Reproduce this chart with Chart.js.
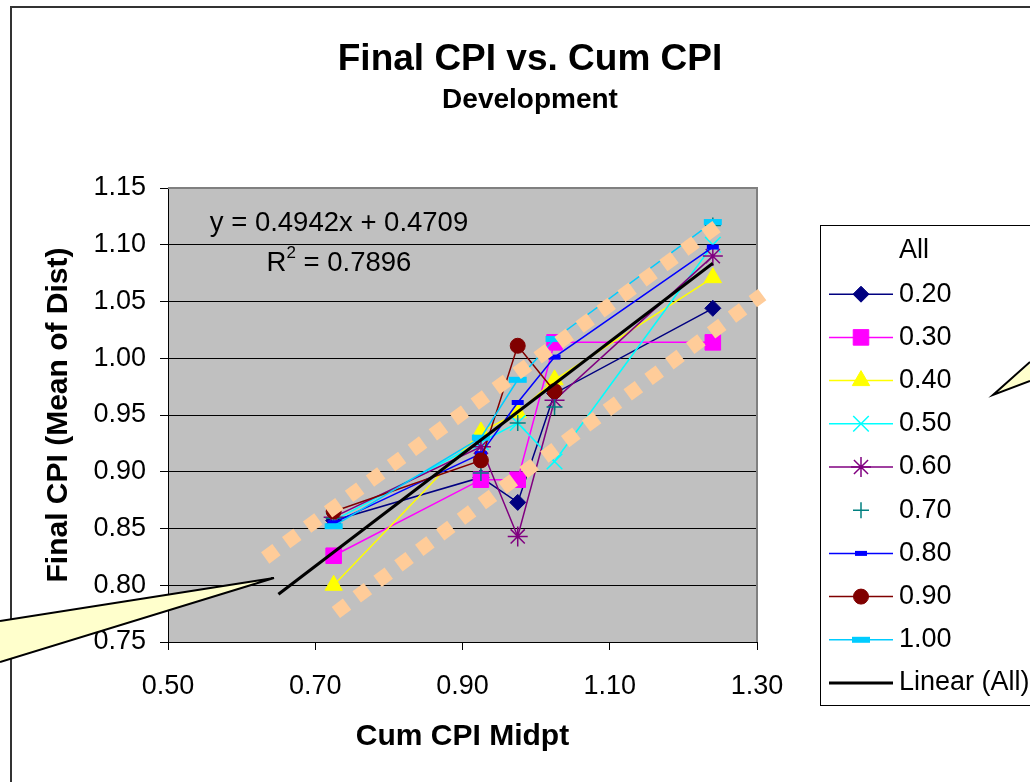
<!DOCTYPE html>
<html>
<head>
<meta charset="utf-8">
<script src="https://cdn.jsdelivr.net/npm/chart.js@4.4.0/dist/chart.umd.min.js"></script>
<style>
html,body{margin:0;padding:0;background:#fff}
#wrap{width:1030px;height:782px}
</style>
</head>
<body>
<div id="wrap"><canvas id="cpi" width="1030" height="782"></canvas></div>
<script>
// cum CPI bucket midpoints (x) and mean final CPI per completion group
const cumCpi=[0.725,0.925,0.975,1.025,1.24]
const groups=["0.20","0.30","0.40","0.50","0.60","0.70","0.80","0.90","1.00"]
const final020=[0.857,0.895,0.873,0.969,1.044]
const final030=[0.826,0.893,0.893,1.014,1.014]
const final040=[0.800,0.935,0.952,0.981,1.071]
const final050=[0.857,0.926,0.943,0.909,1.100]
const final060=[0.860,0.922,0.843,0.963,1.090]
const final070=[0.859,0.899,0.943,0.957,1.117]
const final080=[0.855,0.916,0.961,1.001,1.098]
const final090=[0.865,0.910,1.011,0.971,null]
const final100=[0.852,0.930,0.981,1.017,1.120]
const finals=[final020,final030,final040,final050,final060,final070,final080,final090,final100]

// linear fit on "All"
const slope=0.4942
const intercept=0.4709
const r2=0.7896
const fitX=[0.65,1.24]

// dotted band drawn around the points
const upperBandX=[0.632,1.247]
const upperBandY=[0.824,1.117]
const lowerBandX=[0.728,1.307]
const lowerBandY=[0.776,1.056]

const xMin=0.5, xMax=1.3, xStep=0.2
const yMin=0.75, yMax=1.15, yStep=0.05

const colors=["#000080","#ff00ff","#ffff00","#00ffff","#800080","#008080","#0000ff","#800000","#00ccff"]
const markers=[
{style:"rectRot",r:8,w:1},
{style:"rect",r:11,w:1},
{style:"triangle",r:10,w:1},
{style:"crossRot",r:11,w:1.5},
{style:"star",r:10,w:1.5},
{style:"cross",r:8,w:1.5},
{style:"line",r:6,w:5},
{style:"circle",r:7.5,w:1},
{style:"line",r:9,w:6}
]

const FONT="'Liberation Sans', Arial, sans-serif"
Chart.defaults.font.family=FONT
Chart.defaults.color="#000"

let datasets=groups.map((g,i)=>({
label:g,
data:cumCpi.map((x,j)=>({x:x,y:finals[i][j]})),
showLine:g!=="0.70",
borderColor:colors[i],
backgroundColor:colors[i],
borderWidth:1.5,
pointStyle:markers[i].style,
pointRadius:markers[i].r,
pointHoverRadius:markers[i].r,
pointBackgroundColor:colors[i],
pointBorderColor:colors[i],
pointBorderWidth:markers[i].w,
order:10-i
}))

datasets.push({
label:"Linear (All)",
data:fitX.map(x=>({x:x,y:slope*x+intercept})),
showLine:true,
borderColor:"#000",
borderWidth:3,
pointRadius:0,
order:1
})

const band=(xs,ys,name)=>({
label:name,
data:xs.map((x,j)=>({x:x,y:ys[j]})),
showLine:true,
borderColor:"#ffcc99",
borderWidth:14,
borderDash:[14,12],
borderCapStyle:"butt",
pointRadius:0,
clip:false,
order:0
})
datasets.push(band(upperBandX,upperBandY,"upper"))
datasets.push(band(lowerBandX,lowerBandY,"lower"))

/* backgrounds, titles, legend and callouts */
const decor={
id:"decor",
beforeDraw(chart){
const {ctx,chartArea:a}=chart
ctx.save()
ctx.fillStyle="#fff"
ctx.fillRect(0,0,chart.width,chart.height)
ctx.fillStyle="#c0c0c0"
ctx.fillRect(a.left,a.top,a.right-a.left,a.bottom-a.top)
ctx.restore()
},
beforeDatasetsDraw(chart){
const {ctx,chartArea:a}=chart
ctx.save()
ctx.strokeStyle="#808080"
ctx.lineWidth=2
ctx.beginPath()
ctx.moveTo(a.left,a.top)
ctx.lineTo(a.right,a.top)
ctx.lineTo(a.right,a.bottom)
ctx.stroke()
ctx.restore()
},
afterDraw(chart){
const {ctx}=chart
ctx.save()

// chart border
ctx.strokeStyle="#333"
ctx.lineWidth=2
ctx.beginPath()
ctx.moveTo(11,782)
ctx.lineTo(11,7)
ctx.lineTo(1030,7)
ctx.stroke()

// titles
ctx.fillStyle="#000"
ctx.textAlign="center"
ctx.textBaseline="alphabetic"
ctx.font="bold 37px "+FONT
ctx.fillText("Final CPI vs. Cum CPI",530,70)
ctx.font="bold 28px "+FONT
ctx.fillText("Development",530,108)

// trendline label
ctx.font="27.5px "+FONT
ctx.fillText("y = "+slope+"x + "+intercept,339,231)
ctx.textAlign="left"
const r2Text=" = "+r2
const wR=ctx.measureText("R").width
const wRest=ctx.measureText(r2Text).width
ctx.font="17px "+FONT
const wSup=ctx.measureText("2").width
let x0=339-(wR+wSup+wRest)/2
ctx.font="27.5px "+FONT
ctx.fillText("R",x0,271)
ctx.font="17px "+FONT
ctx.fillText("2",x0+wR,258)
ctx.font="27.5px "+FONT
ctx.fillText(r2Text,x0+wR+wSup,271)

// legend
ctx.strokeStyle="#000"
ctx.lineWidth=1
ctx.strokeRect(820.5,225.5,240,480)
ctx.font="27px "+FONT
ctx.textBaseline="middle"
const rowY=i=>251+i*43.2
ctx.fillText("All",899,rowY(0))
groups.forEach((g,i)=>{
const y=rowY(i+1)
ctx.strokeStyle=colors[i]
ctx.fillStyle=colors[i]
if(g!=="0.70"){
ctx.lineWidth=1.5
ctx.beginPath()
ctx.moveTo(829,y)
ctx.lineTo(893,y)
ctx.stroke()
}
ctx.lineWidth=markers[i].w
Chart.helpers.drawPoint(ctx,{pointStyle:markers[i].style,radius:markers[i].r,rotation:0,borderWidth:markers[i].w},861,y)
ctx.fillStyle="#000"
ctx.fillText(g,899,y)
})
const ly=rowY(10)
ctx.strokeStyle="#000"
ctx.lineWidth=3
ctx.beginPath()
ctx.moveTo(829,ly)
ctx.lineTo(893,ly)
ctx.stroke()
ctx.fillStyle="#000"
ctx.fillText("Linear (All)",899,ly)

// callouts
ctx.fillStyle="#ffffcc"
ctx.strokeStyle="#000"
ctx.lineWidth=2
ctx.lineJoin="miter"
ctx.beginPath()
ctx.moveTo(-2,621)
ctx.lineTo(274,578)
ctx.lineTo(-2,662)
ctx.closePath()
ctx.fill()
ctx.beginPath()
ctx.moveTo(0,621)
ctx.lineTo(274,578)
ctx.lineTo(0,662)
ctx.stroke()

ctx.beginPath()
ctx.moveTo(1032,362)
ctx.lineTo(993,395)
ctx.lineTo(1032,381)
ctx.closePath()
ctx.fill()
ctx.beginPath()
ctx.moveTo(1030,362)
ctx.lineTo(993,395)
ctx.lineTo(1030,381)
ctx.stroke()

ctx.restore()
}
}

new Chart(document.getElementById("cpi"),{
type:"scatter",
data:{datasets:datasets},
options:{
responsive:false,
animation:false,
devicePixelRatio:1,
events:[],
layout:{padding:{left:12,top:188,right:273,bottom:27}},
plugins:{legend:{display:false},tooltip:{enabled:false}},
scales:{
x:{
type:"linear",
min:xMin,max:xMax,
ticks:{stepSize:xStep,padding:20,font:{size:27},callback:v=>v.toFixed(2)},
grid:{drawOnChartArea:false,drawTicks:true,tickLength:8,tickColor:"#000"},
border:{display:true,color:"#000",width:1},
title:{display:true,text:"Cum CPI Midpt",font:{size:30,weight:"bold"},padding:{top:0,bottom:0}},
afterFit:s=>{s.height=113}
},
y:{
type:"linear",
min:yMin,max:yMax,
ticks:{stepSize:yStep,padding:14,font:{size:27},callback:v=>v.toFixed(2)},
grid:{color:c=>c.tick&&Math.abs(c.tick.value-yMax)<1e-6?"#808080":"#000",lineWidth:1,drawTicks:true,tickLength:8,tickColor:"#000"},
border:{display:true,color:"#000",width:1},
title:{display:true,text:"Final CPI (Mean of Dist)",font:{size:30,weight:"bold"},padding:{top:29,bottom:0}},
afterFit:s=>{s.width=156}
}
}
},
plugins:[decor]
})
</script>
</body>
</html>
